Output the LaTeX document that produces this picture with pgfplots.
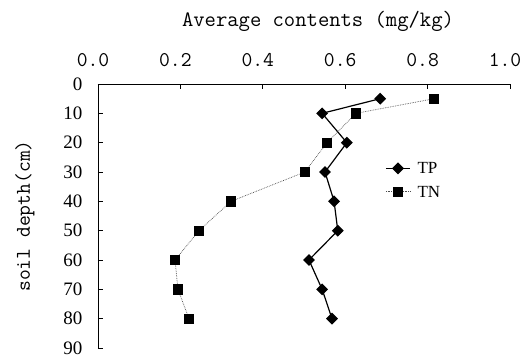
\documentclass[border=0pt]{standalone}
\usepackage{fontspec}
\setmainfont{Liberation Serif}
\newfontfamily\lmmono{Latin Modern Mono}
\usepackage{pgfplots}
\pgfplotsset{compat=1.18}
\begin{document}
\begin{tikzpicture}
\begin{axis}[
  scale only axis,
  width=412pt, height=264pt,
  xmin=0, xmax=1, ymin=0, ymax=90,
  y dir=reverse,
  axis x line*=top, axis y line*=left,
  axis line style={black, line width=0.7pt, -},
  tick align=inside,
  major tick length=5pt,
  tick style={black, line width=0.7pt},
  xtick={0,0.2,0.4,0.6,0.8,1.0},
  xticklabels={0.0,0.2,0.4,0.6,0.8,1.0},
  ytick={0,10,20,30,40,50,60,70,80,90},
  yticklabels={0,10,20,30,40,50,60,70,80,90},
  xticklabel style={font=\lmmono\fontsize{21}{21}\selectfont, yshift=14pt, xshift=-5pt},
  yticklabel style={font=\fontsize{19}{19}\selectfont, xshift=-12pt},
  legend style={at={(axis cs:0.697,26.8)}, anchor=north west, draw=none, fill=none,
    font=\fontsize{17}{17}\selectfont, row sep=12pt, inner sep=0pt,
    nodes={inner sep=0pt, text depth=0pt}},
  legend cell align=left,
  legend image code/.code={\draw[mark repeat=2,mark phase=2,#1] plot coordinates {(0pt,0pt) (12pt,0pt) (24pt,0pt)};},
  clip=false,
]
\addplot[black, line width=1.2pt, mark=square*, mark size=3.6pt, mark options={rotate=45, solid}]
  coordinates {(0.685,5) (0.544,10) (0.604,20) (0.551,30) (0.573,40) (0.582,50) (0.512,60) (0.544,70) (0.568,80)};
\addlegendentry{\hspace{7pt}TP}
\addplot[black!70, densely dotted, line width=0.7pt, mark=square*, mark size=4.6pt, mark options={solid, black}]
  coordinates {(0.816,5) (0.626,10) (0.556,20) (0.502,30) (0.323,40) (0.245,50) (0.187,60) (0.194,70) (0.221,80)};
\addlegendentry{\hspace{7pt}TN}
\end{axis}
\node[font=\lmmono\fontsize{22}{22}\selectfont] at ([shift={(220pt,63pt)}]current axis.north west) {Average contents (mg/kg)};
\node[font=\lmmono\fontsize{21}{21}\selectfont, rotate=90] at ([shift={(-73pt,-132pt)}]current axis.north west) {soil depth(cm)};
\pgfresetboundingbox
\path[use as bounding box] ([shift={(-98pt,84pt)}]current axis.north west) rectangle ([shift={(11pt,-14pt)}]current axis.south east);
\end{tikzpicture}
\end{document}
